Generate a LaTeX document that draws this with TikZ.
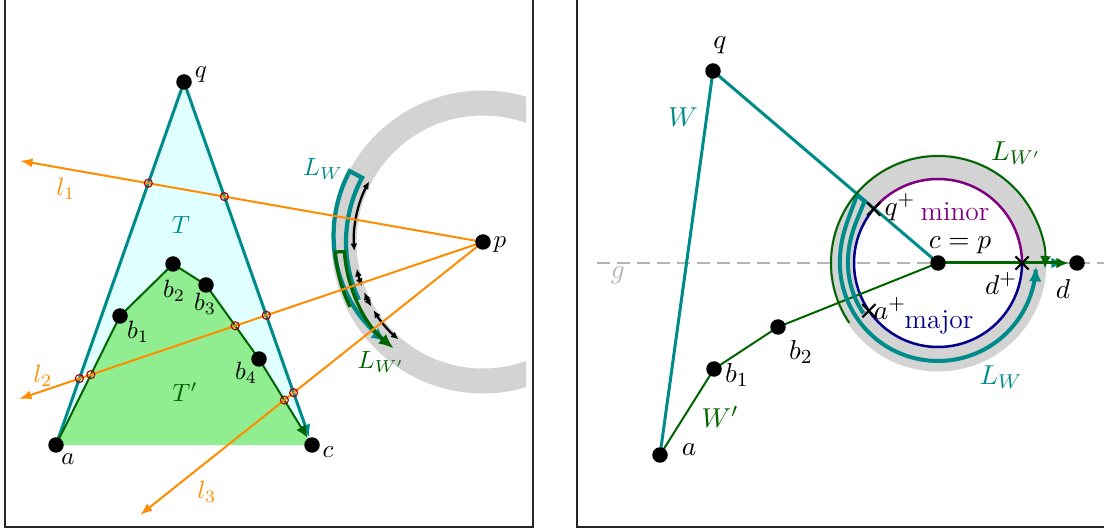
\documentclass[tikz,border=0pt]{standalone}
\usetikzlibrary{arrows.meta,backgrounds,shapes.misc}
\definecolor{ringgray}{RGB}{211,211,211}
\definecolor{tealc}{RGB}{0,139,139}
\definecolor{dgreen}{RGB}{0,100,0}
\definecolor{lcyan}{RGB}{224,255,255}
\definecolor{lgreen}{RGB}{144,238,144}
\definecolor{dorange}{RGB}{255,140,0}
\definecolor{markred}{RGB}{170,0,0}
\definecolor{purp}{RGB}{128,0,128}
\definecolor{navyc}{RGB}{0,0,139}
\definecolor{ggray}{RGB}{180,180,180}
\begin{document}
\begin{tikzpicture}[x=0.4pt,y=-0.4pt,
  blackdot/.style={circle,fill=black,inner sep=0pt,minimum size=6.2pt},
  lab/.style={inner sep=0pt},
  rlab/.style={inner sep=0pt,font=\fontsize{11}{13}\selectfont},
  frameline/.style={draw=black!85,line width=0.45pt},
  tealedge/.style={draw=tealc,line width=1.2pt},
  greenedge/.style={draw=dgreen,line width=0.8pt},
  rayline/.style={draw=dorange,line width=0.8pt,-{Latex[length=5pt,width=3.6pt]}},
  hitmark/.style={circle,draw=markred,line width=0.45pt,minimum size=3.2pt,inner sep=0pt},
  crossmark/.style={cross out,draw=black,line width=0.85pt,minimum size=4.4pt,inner sep=0pt},
  bigtip/.style={-{Latex[length=6pt,width=5pt]}},
  midtip/.style={-{Latex[length=5pt,width=4.4pt]}},
  twotip/.style={{Latex[length=3pt,width=2.8pt]}-{Latex[length=3pt,width=2.8pt]}},
]
\useasboundingbox (0,0) rectangle (1104,531);

% ---------------- left panel: points
\node[blackdot] (Lq) at (184,82) {};
\node[blackdot] (La) at (56,445) {};
\node[blackdot] (Lc) at (312,445) {};
\node[blackdot] (Lp) at (483,242) {};
\node[blackdot] (Lb1) at (120,316) {};
\node[blackdot] (Lb2) at (173,264) {};
\node[blackdot] (Lb3) at (206,285) {};
\node[blackdot] (Lb4) at (259,359) {};
\coordinate (E1) at (20,160.7);
\coordinate (E2) at (19,399);
\coordinate (E3) at (140,515);

% ---------------- right panel: points
\node[blackdot] (Rq) at (713,71) {};
\node[blackdot] (Ra) at (660,455) {};
\node[blackdot] (Rb1) at (714,369) {};
\node[blackdot] (Rb2) at (778,327) {};
\node[blackdot] (Rc) at (938,263) {};
\node[blackdot] (Rd) at (1077,263) {};
\coordinate (G0) at (597,263);
\coordinate (G1) at (1110,263);

\begin{pgfonlayer}{background}
  % frames
  \draw[frameline] (5,-10) -- (5,527) -- (533,527) -- (533,-10);
  \draw[frameline] (577,-10) -- (577,527) -- (1115,527);

  % ===== left panel
  \begin{scope}
    \clip (0,0) rectangle (526,531);
    \begin{scope}[shift={(483,242)},x=0.4pt,y=0.4pt]
      \draw[ringgray,line width=10pt] (0,0) circle[radius=139];
    \end{scope}
  \end{scope}
  \fill[lcyan] (La.center) -- (Lq.center) -- (Lc.center) -- cycle;
  \fill[lgreen] (La.center) -- (Lb1.center) -- (Lb2.center) -- (Lb3.center) -- (Lb4.center) -- (Lc.center) -- cycle;
  \draw[tealedge,midtip] (La.center) -- (Lq.center) -- (Lc);
  \draw[greenedge,midtip] (La.center) -- (Lb1.center) -- (Lb2.center) -- (Lb3.center) -- (Lb4.center) -- (Lc);

  \begin{scope}[shift={(483,242)},x=0.4pt,y=0.4pt]
    \draw[tealc,line width=1.7pt,bigtip] (205:137) arc[start angle=205,end angle=152,radius=137]
      -- plot[domain=152:226,samples=40,smooth] (\x:{151-12*((\x-152)/74)^2});
    \draw[dgreen,line width=1.3pt,bigtip] (206:148) arc[start angle=206,end angle=184,radius=149]
      -- (184:139) arc[start angle=184,end angle=230,radius=139];
    \draw[black,line width=0.9pt,twotip] (152:129) arc[start angle=152,end angle=184,radius=129];
    \draw[black,line width=0.9pt,twotip] (192:129) arc[start angle=192,end angle=200,radius=129];
    \draw[black,line width=0.9pt,twotip] (203:129) arc[start angle=203,end angle=210,radius=129];
    \draw[black,line width=0.9pt,twotip] (212:129) arc[start angle=212,end angle=229,radius=129];
  \end{scope}

  \draw[rayline] (Lp.center) -- (E1);
  \draw[rayline] (Lp.center) -- (E2);
  \draw[rayline] (Lp.center) -- (E3);

  % ===== right panel
  \draw[ggray,line width=0.5pt,dash pattern=on 5pt off 3pt] (G0) -- (G1);
  \begin{scope}[shift={(938,263)},x=0.4pt,y=0.4pt]
    \draw[ringgray,line width=10pt] (0,0) circle[radius=96];
    \draw[purp,line width=1pt] (0:84) arc[start angle=0,end angle=140,radius=84];
    \draw[navyc,line width=1pt] (140:84) arc[start angle=140,end angle=360,radius=84];
  \end{scope}
  \draw[tealedge] (Ra.center) -- (Rq.center) -- (Rc.center);
  \draw[tealedge,midtip,shorten >=2pt] (Rc.center) -- (Rd);
  \draw[greenedge] (Ra.center) -- (Rb1.center) -- (Rb2.center) -- (Rc.center);
  \draw[dgreen,line width=1.2pt,midtip] (Rc.center) -- (Rd);
  \begin{scope}[shift={(938,263)},x=0.4pt,y=0.4pt]
    \draw[tealc,line width=1.6pt,bigtip]
      plot[domain=0:74,samples=30,smooth] ({214-\x}:{90+6*exp(-(74-\x)/10)})
      -- plot[domain=140:358,samples=80,smooth] (\x:{98+8*exp(-(\x-140)/10)});
    \draw[dgreen,line width=0.8pt,midtip] (214:107) arc[start angle=214,end angle=-3,radius=107];
  \end{scope}
\end{pgfonlayer}

% intersection marks
\node[hitmark] (h1) at (148.3,183.2) {};
\node[hitmark] (h2) at (224.4,196.6) {};
\node[hitmark] (h3) at (79.4,378.5) {};
\node[hitmark] (h4) at (90.9,374.6) {};
\node[hitmark] (h5) at (235.2,325.8) {};
\node[hitmark] (h6) at (266.3,315.3) {};
\node[hitmark] (h7) at (284.4,400.1) {};
\node[hitmark] (h8) at (293.6,392.7) {};

% crosses
\node[crossmark] (Rqp) at (873.7,209) {};
\node[crossmark] (Rap) at (868.9,310.7) {};
\node[crossmark] (Rdp) at (1022,263) {};

% ---------------- labels left
\node[lab] at (201,75) {$q$};
\node[lab] at (68,459) {$a$};
\node[lab] at (328,452) {$c$};
\node[lab] at (500,245) {$p$};
\node[lab] at (138,332) {$b_1$};
\node[lab] at (174,291) {$b_2$};
\node[lab] at (205,304) {$b_3$};
\node[lab] at (246,373) {$b_4$};
\node[lab,text=tealc] at (181,225) {$T$};
\node[lab,text=dgreen] at (185,392) {$T'$};
\node[lab,text=dorange] at (66,189) {$l_1$};
\node[lab,text=dorange] at (43,376) {$l_2$};
\node[lab,text=dorange] at (207,492) {$l_3$};
\node[lab,text=tealc] at (323,169) {$L_W$};
\node[lab,text=dgreen] at (381,362) {$L_{W'}$};

% ---------------- labels right
\node[rlab] at (720,45) {$q$};
\node[rlab] at (689,450) {$a$};
\node[rlab] at (737,375) {$b_1$};
\node[rlab] at (801,352) {$b_2$};
\node[rlab] at (960,245) {$c=p$};
\node[rlab] at (1063,289) {$d$};
\node[rlab,text=ggray] at (618,275) {$g$};
\node[rlab,text=tealc] at (683,117) {$W$};
\node[rlab,text=dgreen] at (720,417) {$W'$};
\node[rlab] at (900,207) {$q^+$};
\node[rlab,text=purp] at (955,212) {minor};
\node[rlab] at (890,308) {$a^+$};
\node[rlab,text=navyc] at (939,322) {major};
\node[rlab] at (1001,283) {$d^+$};
\node[rlab,text=dgreen] at (1016,153) {$L_{W'}$};
\node[rlab,text=tealc] at (1001,377) {$L_W$};
\end{tikzpicture}
\end{document}
